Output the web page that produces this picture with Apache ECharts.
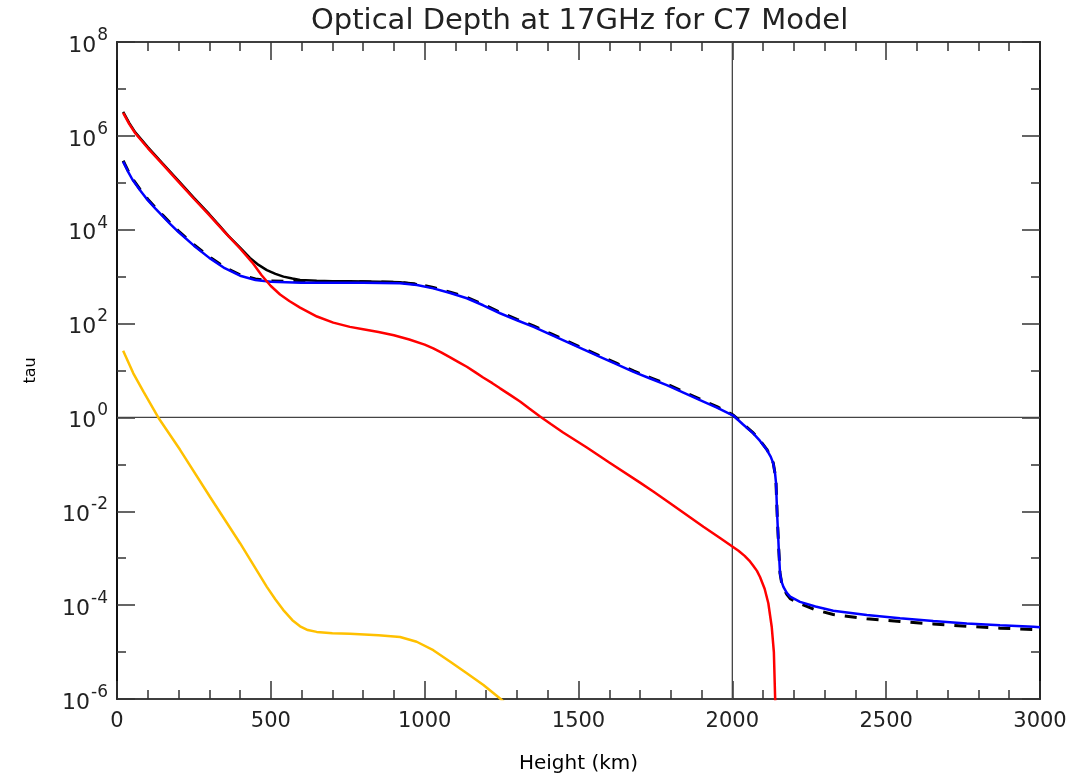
<!DOCTYPE html>
<html>
<head>
<meta charset="utf-8">
<script src="https://cdn.jsdelivr.net/npm/echarts@6/dist/echarts.min.js"></script>
<style>html,body{margin:0;padding:0;background:#fff}#chart{width:1075px;height:778px}</style>
</head>
<body>
<div id="chart"></div>
<script>
// Values: height (km) and log10(tau)
const redH   = [20,40,60,100,150,200,250,300,350,400,440,470,500,530,560,595,650,703,757,800,850,900,950,1000,1028,1055,1080,1110,1137,1165,1190,1220,1245,1280,1310,1340,1375,1410,1450,1527,1600,1700,1743,1800,1906,1960,2000,2020,2040,2055,2068,2080,2090,2105,2117,2128,2135,2139,2142];
const redLog = [6.49,6.25,6.05,5.74,5.38,5.02,4.66,4.31,3.95,3.60,3.30,3.03,2.80,2.62,2.48,2.34,2.15,2.02,1.93,1.88,1.82,1.75,1.66,1.55,1.47,1.38,1.29,1.18,1.08,0.96,0.85,0.73,0.62,0.47,0.34,0.19,0.02,-0.14,-0.32,-0.64,-0.96,-1.39,-1.58,-1.84,-2.33,-2.57,-2.75,-2.84,-2.95,-3.05,-3.16,-3.27,-3.40,-3.65,-3.96,-4.46,-5.0,-5.95,-6.6];

const blackH   = [20,40,60,100,150,200,250,300,330,362,400,432,460,487,515,541,570,595,649,700,757,850,920,975];
const blackLog = [6.51,6.27,6.07,5.76,5.40,5.04,4.68,4.33,4.11,3.87,3.62,3.40,3.25,3.14,3.06,3.00,2.96,2.93,2.91,2.90,2.90,2.89,2.88,2.84];

const blueH   = [20,35,50,75,100,125,150,175,200,250,300,350,400,450,500,600,700,800,920,975,1028,1083,1137,1190,1245,1300,1354,1408,1462,1516,1570,1625,1679,1733,1787,1841,1895,1950,2003,2035,2068,2090,2112,2125,2133,2139,2142,2146,2151,2155,2160,2166,2177,2188,2220,2270,2328,2437,2545,2653,2762,2870,2979,3000];
const blueLog = [5.45,5.25,5.07,4.84,4.63,4.45,4.28,4.11,3.95,3.66,3.40,3.18,3.02,2.93,2.89,2.87,2.87,2.87,2.86,2.82,2.75,2.65,2.54,2.39,2.22,2.07,1.93,1.77,1.61,1.45,1.29,1.13,0.97,0.83,0.69,0.53,0.37,0.21,0.04,-0.15,-0.34,-0.50,-0.69,-0.84,-0.98,-1.2,-1.40,-2.11,-2.82,-3.32,-3.50,-3.61,-3.74,-3.82,-3.93,-4.03,-4.12,-4.21,-4.28,-4.34,-4.39,-4.43,-4.46,-4.47];

const dashH   = blueH;
const dashLog = [5.47,5.27,5.09,4.86,4.65,4.47,4.30,4.13,3.97,3.68,3.42,3.20,3.04,2.95,2.91,2.89,2.89,2.89,2.88,2.84,2.77,2.67,2.56,2.41,2.24,2.09,1.95,1.79,1.63,1.47,1.31,1.15,0.99,0.85,0.71,0.55,0.39,0.23,0.05,-0.14,-0.33,-0.49,-0.68,-0.83,-0.97,-1.2,-1.40,-2.11,-2.82,-3.32,-3.51,-3.63,-3.77,-3.86,-3.97,-4.10,-4.20,-4.29,-4.35,-4.40,-4.45,-4.49,-4.52,-4.53];

const yellowH   = [20,53,86,134,205,302,400,487,515,540,570,595,620,649,700,757,850,920,974,1028,1082,1137,1191,1245,1290];
const yellowLog = [1.42,0.94,0.55,0.0,-0.69,-1.69,-2.68,-3.61,-3.88,-4.10,-4.32,-4.45,-4.53,-4.57,-4.60,-4.61,-4.64,-4.68,-4.78,-4.96,-5.20,-5.45,-5.70,-5.99,-6.25];

const xTicks = [0,500,1000,1500,2000,2500,3000];
const yExpMin = -6, yExpMax = 8;
const refHeight = 2000, refTau = 1;
const titleText = 'Optical Depth at 17GHz for C7 Model';

function pts(h, l) { return h.map((x, i) => [x, Math.pow(10, l[i])]); }

const chart = echarts.init(document.getElementById('chart'));
const FONT = 'DejaVu Sans';
const tickCol = '#333';
const yMin = Math.pow(10, yExpMin), yMax = Math.pow(10, yExpMax);
const xMin = xTicks[0], xMax = xTicks[xTicks.length - 1];
const baseY = {
  type: 'log', logBase: 10, min: yMin, max: yMax,
  splitLine: { show: false }, axisLabel: { show: false },
  axisLine: { show: true, onZero: false, lineStyle: { color: '#000', width: 1.5 } }
};
const baseX = {
  type: 'value', min: xMin, max: xMax, interval: 500,
  splitLine: { show: false },
  axisLine: { show: true, onZero: false, lineStyle: { color: '#000', width: 1.5 } },
  axisTick: { show: true, inside: true, length: 18, lineStyle: { color: tickCol, width: 1.5 } },
  minorTick: { show: true, splitNumber: 5, length: 9, lineStyle: { color: tickCol, width: 1.5 } }
};
const lineCommon = { type: 'line', showSymbol: false, symbol: 'none', smooth: false, clip: true, animation: false, z: 3 };

chart.setOption({
  animation: false,
  backgroundColor: '#fff',
  title: {
    text: titleText, left: 306, top: 2,
    textStyle: { fontFamily: FONT, fontSize: 29, fontWeight: 'normal', color: '#222' }
  },
  grid: { left: 117, right: 35, top: 42, bottom: 79, containLabel: false, outerBoundsMode: 'none' },
  xAxis: [
    Object.assign({}, baseX, {
      position: 'bottom',
      axisLabel: { show: true, margin: 12, fontFamily: FONT, fontSize: 21, color: '#222',
                   formatter: function (v) { return String(v); } },
      name: 'Height (km)', nameLocation: 'middle', nameGap: 55,
      nameTextStyle: { fontFamily: FONT, fontSize: 20, color: '#000' }
    }),
    Object.assign({}, baseX, { position: 'top', axisLabel: { show: false } })
  ],
  yAxis: [
    Object.assign({}, baseY, {
      position: 'left', interval: 2,
      axisTick: { show: true, inside: true, length: 18, lineStyle: { color: tickCol, width: 1.5 } },
      axisLabel: {
        show: true, margin: 9,
        formatter: function (v) {
          const e = Math.round(Math.log10(v));
          return '{b|10}{s|' + e + '}';
        },
        rich: {
          b: { fontFamily: FONT, fontSize: 22, color: '#222', verticalAlign: 'bottom' },
          s: { fontFamily: FONT, fontSize: 17, color: '#222', verticalAlign: 'bottom', padding: [0, 0, 13, 1] }
        }
      },
      name: 'tau', nameLocation: 'middle', nameGap: 78,
      nameTextStyle: { fontFamily: FONT, fontSize: 16, color: '#000' }
    }),
    Object.assign({}, baseY, {
      position: 'left', interval: 1,
      axisTick: { show: true, inside: true, length: 9, lineStyle: { color: tickCol, width: 1.5 } }
    }),
    Object.assign({}, baseY, {
      position: 'right', interval: 2,
      axisTick: { show: true, inside: true, length: 18, lineStyle: { color: tickCol, width: 1.5 } }
    }),
    Object.assign({}, baseY, {
      position: 'right', interval: 1,
      axisTick: { show: true, inside: true, length: 9, lineStyle: { color: tickCol, width: 1.5 } }
    })
  ],
  series: [
    Object.assign({}, lineCommon, {
      name: 'refV', data: [[refHeight, yMin], [refHeight, yMax]],
      lineStyle: { color: '#444', width: 1.3 }, z: 2, silent: true
    }),
    Object.assign({}, lineCommon, {
      name: 'refH', data: [[xMin, refTau], [xMax, refTau]],
      lineStyle: { color: '#444', width: 1.3 }, z: 2, silent: true
    }),
    Object.assign({}, lineCommon, { name: 'yellow', data: pts(yellowH, yellowLog), lineStyle: { color: '#FFC000', width: 2.5 } }),
    Object.assign({}, lineCommon, { name: 'black', data: pts(blackH, blackLog), lineStyle: { color: '#000', width: 2.5 } }),
    Object.assign({}, lineCommon, { name: 'dashed', data: pts(dashH, dashLog), lineStyle: { color: '#000', width: 3, type: [12, 10] } }),
    Object.assign({}, lineCommon, { name: 'blue', data: pts(blueH, blueLog), lineStyle: { color: '#0000FF', width: 2.5 } }),
    Object.assign({}, lineCommon, { name: 'red', data: pts(redH, redLog), lineStyle: { color: '#FF0000', width: 2.5 } })
  ]
});
</script>
</body>
</html>
